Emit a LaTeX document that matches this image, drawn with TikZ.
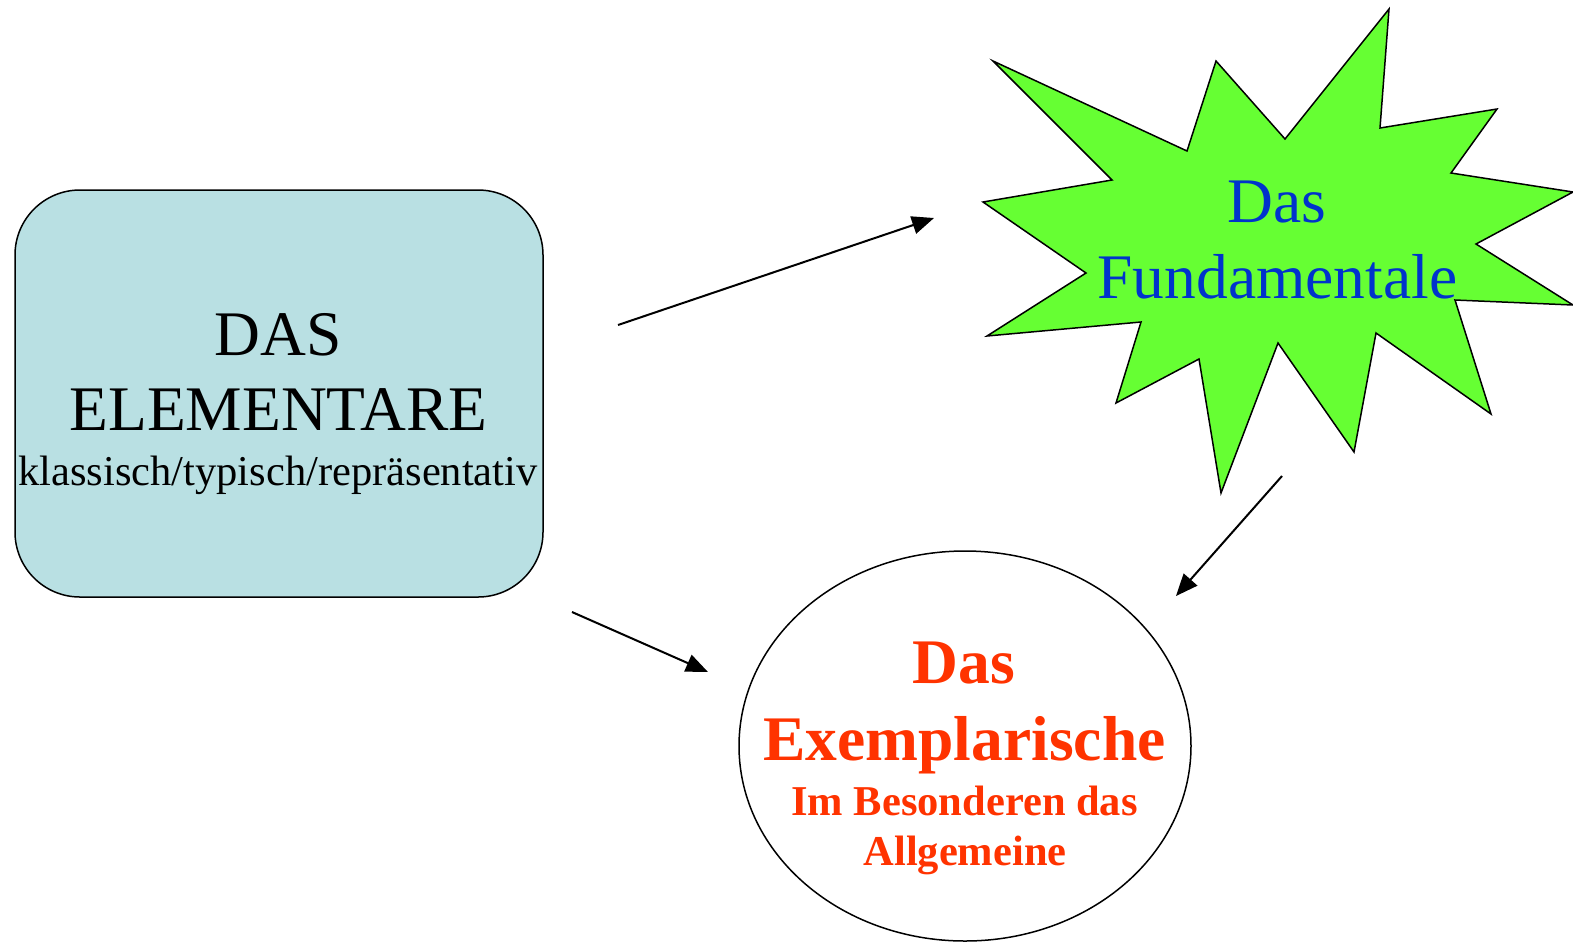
\documentclass[tikz,border=0pt]{standalone}
\usepackage{fontspec}
\setmainfont{Liberation Serif}
\usetikzlibrary{arrows.meta,shapes.geometric}
\definecolor{boxblue}{HTML}{B9E0E3}
\definecolor{stargreen}{HTML}{66FF33}
\definecolor{txtblue}{HTML}{0033CC}
\definecolor{txtred}{HTML}{FF3300}
\tikzset{
  big/.style={font=\fontsize{31.75}{38}\selectfont, anchor=base, inner sep=0pt},
  small/.style={font=\fontsize{21.25}{25}\selectfont, anchor=base, inner sep=0pt},
  conn/.style={line width=1pt, -{Triangle[length=11pt,width=9pt]}},
  outline/.style={draw=black, line width=0.75pt}
}
\begin{document}
\begin{tikzpicture}[x=0.5pt,y=-0.5pt]
\useasboundingbox (0,0) rectangle (1573,944);
% rounded box
\node[outline, fill=boxblue, rectangle, rounded corners=32.5pt, minimum width=264pt, minimum height=203.5pt, inner sep=0pt] (elem) at (279,393.5) {};
\node[big] (t1) at (278,355) {DAS};
\node[big] (t2) at (278.5,430) {ELEMENTARE};
\node[small] (t3) at (278,485) {klassisch/typisch/repräsentativ};
% star
\draw[outline, fill=stargreen, line join=miter]
 (993,61) -- (1187,151) -- (1216,61) -- (1285,139) -- (1389,9) -- (1380,128)
 -- (1497,109) -- (1451,173) -- (1573,192) -- (1476,244) -- (1573,305) -- (1455,300)
 -- (1491,414) -- (1376,333) -- (1354,452) -- (1278,343) -- (1221,493) -- (1199,359)
 -- (1116,403) -- (1141,322) -- (987,336) -- (1086,273) -- (983,202) -- (1112,180) -- cycle;
\node[big, text=txtblue] (f1) at (1277,222) {Das};
\node[big, text=txtblue] (f2) at (1277.5,298) {Fundamentale};
% ellipse
\node[outline, fill=white, ellipse, minimum width=226pt, minimum height=195pt, inner sep=0pt] (exem) at (965,746) {};
\node[big, text=txtred, font=\fontsize{31.75}{38}\selectfont\bfseries] (e1) at (964,683) {Das};
\node[big, text=txtred, font=\fontsize{31.75}{38}\selectfont\bfseries] (e2) at (964.5,760) {Exemplarische};
\node[small, text=txtred, font=\fontsize{21.25}{25}\selectfont\bfseries] (e3) at (964.5,815) {Im Besonderen das};
\node[small, text=txtred, font=\fontsize{21.25}{25}\selectfont\bfseries] (e4) at (965,865) {Allgemeine};
% arrows
\coordinate (a1s) at (618,325);
\coordinate (a1e) at (934,218);
\coordinate (a2s) at (572,612);
\coordinate (a2e) at (708,672);
\coordinate (a3s) at (1282,476);
\coordinate (a3e) at (1176,596);
\draw[conn] (a1s) -- (a1e);
\draw[conn] (a2s) -- (a2e);
\draw[conn] (a3s) -- (a3e);
\end{tikzpicture}
\end{document}
